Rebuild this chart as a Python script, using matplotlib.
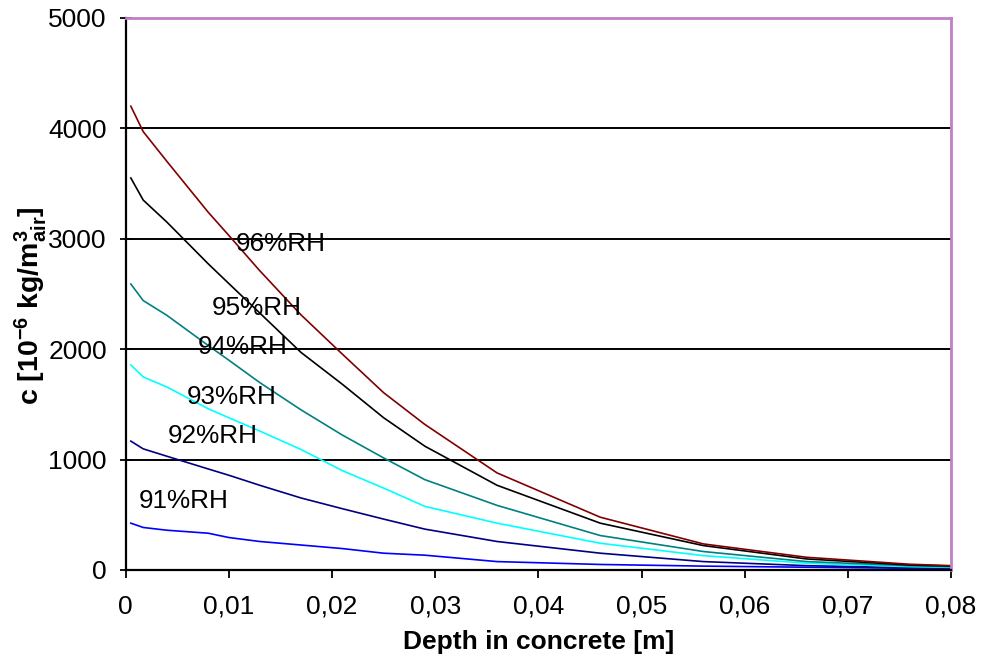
import matplotlib
matplotlib.use("Agg")
import matplotlib.pyplot as plt

plt.rcParams['font.family'] = ['Liberation Sans', 'DejaVu Sans']
plt.rcParams['mathtext.fontset'] = 'custom'
plt.rcParams['mathtext.rm'] = 'Liberation Sans'
plt.rcParams['mathtext.bf'] = 'Liberation Sans:bold'
plt.rcParams['mathtext.it'] = 'Liberation Sans:italic'

# depth [m] and concentration [10^-6 kg/m3 air] for each RH level
depth = [0.0005, 0.0017, 0.004, 0.008, 0.010, 0.013, 0.017, 0.021,
         0.025, 0.029, 0.036, 0.046, 0.056, 0.066, 0.076, 0.080]
rh96 = [4200, 3970, 3700, 3240, 3030, 2710, 2310, 1955, 1606, 1318, 879, 478, 236, 115, 52, 39]
rh95 = [3550, 3350, 3150, 2773, 2594, 2327, 1970, 1682, 1379, 1121, 767, 424, 221, 100, 45, 36]
rh94 = [2590, 2440, 2306, 2033, 1900, 1697, 1450, 1222, 1015, 818, 585, 312, 167, 76, 39, 30]
rh93 = [1857, 1748, 1657, 1460, 1379, 1258, 1091, 900, 742, 576, 424, 242, 130, 61, 30, 24]
rh92 = [1167, 1097, 1030, 915, 858, 767, 652, 555, 461, 370, 258, 152, 76, 39, 21, 20]
rh91 = [424, 385, 360, 333, 294, 258, 226, 194, 152, 134, 76, 50, 35, 25, 15, 12]

series = [rh91, rh92, rh93, rh94, rh95, rh96]
names = ['91%RH', '92%RH', '93%RH', '94%RH', '95%RH', '96%RH']
colors = ['#0000ff', '#000080', '#00ffff', '#008080', '#000000', '#800000']
# label anchor points (data coords)
label_x = [0.0056, 0.0084, 0.0103, 0.0113, 0.0127, 0.0150]
label_y = [627, 1209, 1564, 2018, 2373, 2955]

xticks = [0, 0.01, 0.02, 0.03, 0.04, 0.05, 0.06, 0.07, 0.08]
xtick_labels = ['0', '0,01', '0,02', '0,03', '0,04', '0,05', '0,06', '0,07', '0,08']
yticks = [0, 1000, 2000, 3000, 4000, 5000]

fig = plt.figure(figsize=(9.84, 6.62), dpi=100)
ax = fig.add_axes([0.1277, 0.139, 0.8388, 0.834])

for vals, col in zip(series, colors):
    ax.plot(depth, vals, color=col, lw=1.2)

for name, lx, ly in zip(names, label_x, label_y):
    ax.text(lx, ly, name, fontsize=18.8, ha='center', va='center')

ax.set_xlim(0, 0.08)
ax.set_ylim(0, 5000)
ax.set_xticks(xticks)
ax.set_xticklabels(xtick_labels)
ax.set_yticks(yticks)
ax.yaxis.grid(True, color='black', lw=1.4)
ax.set_axisbelow(True)

ax.tick_params(axis='x', direction='out', length=6, width=1.3, pad=12, labelsize=19)
ax.tick_params(axis='y', direction='inout', length=9, width=1.3, pad=9, labelsize=19)

for s in ['left', 'bottom']:
    ax.spines[s].set_color('black')
    ax.spines[s].set_linewidth(1.6)
for s in ['top', 'right']:
    ax.spines[s].set_color('#c080c8')
    ax.spines[s].set_linewidth(2)

ax.set_xlabel('Depth in concrete [m]', fontsize=19, fontweight='bold')
ax.set_ylabel(r'c [10$^{\mathbf{-6}}$ kg/m$^{\mathbf{3}}_{\mathbf{air}}$]',
              fontsize=20.5, fontweight='bold')
ax.xaxis.set_label_coords(0.5, -0.108)
ax.yaxis.set_label_coords(-0.093, 0.478)

fig.savefig('out.png', dpi=100)
